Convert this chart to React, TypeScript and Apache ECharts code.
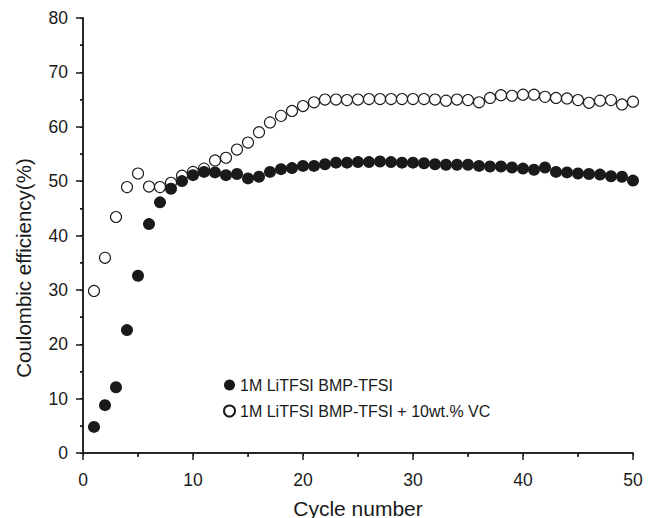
import React, { useEffect, useRef } from "react";
import * as echarts from "echarts";

const cycles = Array.from({ length: 50 }, (_, i) => i + 1);
const seriesNames = ["1M LiTFSI BMP-TFSI", "1M LiTFSI BMP-TFSI + 10wt.% VC"];
const baseValues = [
  4.8, 8.8, 12.1, 22.6, 32.6, 42.1, 46.1, 48.6, 50.0, 51.1,
  51.7, 51.6, 51.1, 51.3, 50.5, 50.8, 51.7, 52.2, 52.4, 52.8,
  52.8, 53.1, 53.4, 53.4, 53.5, 53.5, 53.6, 53.5, 53.4, 53.4,
  53.3, 53.1, 53.0, 53.0, 53.0, 52.8, 52.7, 52.7, 52.5, 52.3,
  52.1, 52.5, 51.7, 51.6, 51.4, 51.3, 51.2, 50.9, 50.8, 50.1,
];
const vcValues = [
  29.8, 35.9, 43.4, 48.9, 51.4, 49.0, 48.9, 49.7, 51.0, 51.7,
  52.3, 53.8, 54.3, 55.8, 57.1, 59.0, 60.8, 62.0, 62.9, 63.8,
  64.5, 65.0, 65.0, 64.9, 65.0, 65.1, 65.1, 65.1, 65.1, 65.1,
  65.1, 65.0, 64.8, 65.0, 64.9, 64.5, 65.3, 65.8, 65.7, 65.9,
  65.9, 65.5, 65.3, 65.2, 64.9, 64.4, 64.8, 64.9, 64.1, 64.6,
];
const xLabel = "Cycle number";
const yLabel = "Coulombic efficiency(%)";

const INK = "#1a1a1a";
const FONT = "Liberation Sans, Arial, sans-serif";

export default function App() {
  const ref = useRef<HTMLDivElement>(null);
  useEffect(() => {
    if (!ref.current) return;
    const chart = echarts.init(ref.current, null, { renderer: "svg" });
    const axisLine = { show: true, lineStyle: { color: INK, width: 1.5 } };
    chart.setOption({
      animation: false,
      backgroundColor: "#fff",
      grid: { left: 83, right: 21, top: 18, bottom: 65, containLabel: false, outerBoundsMode: "none" },
      graphic: [
        {
          type: "text",
          x: 23,
          y: 268,
          rotation: Math.PI / 2,
          style: {
            text: yLabel,
            fontFamily: FONT,
            fontSize: 20.5,
            fill: INK,
            align: "center",
            verticalAlign: "middle",
          },
        },
      ],
      legend: {
        orient: "vertical",
        left: 218,
        top: 372,
        itemWidth: 11,
        itemHeight: 11,
        itemGap: 10,
        textStyle: { fontFamily: FONT, fontSize: 16, color: INK },
        data: [
          { name: seriesNames[0], icon: "circle" },
          { name: seriesNames[1], icon: "circle" },
        ],
      },
      xAxis: [
        {
          type: "value",
          min: 0,
          max: 50,
          interval: 10,
          name: xLabel,
          nameLocation: "middle",
          nameGap: 44.5,
          nameTextStyle: { fontFamily: FONT, fontSize: 21, color: INK },
          axisLine,
          axisTick: { show: true, inside: false, length: 7, lineStyle: { color: INK, width: 1.5 } },
          minorTick: { show: true, splitNumber: 2, length: 4, lineStyle: { color: INK, width: 1.5 } },
          axisLabel: { fontFamily: FONT, fontSize: 17.5, color: INK, margin: 18 },
          splitLine: { show: false },
        },
        {
          type: "value",
          position: "top",
          min: 0,
          max: 50,
          interval: 5,
          axisLine,
          axisTick: { show: true, inside: true, length: 3, lineStyle: { color: INK, width: 1 } },
          axisLabel: { show: false },
          splitLine: { show: false },
        },
      ],
      yAxis: [
        {
          type: "value",
          min: 0,
          max: 80,
          interval: 10,
          axisLine,
          axisTick: { show: true, inside: false, length: 7, lineStyle: { color: INK, width: 1.5 } },
          minorTick: { show: true, splitNumber: 2, length: 3, lineStyle: { color: INK, width: 1.5 } },
          axisLabel: { fontFamily: FONT, fontSize: 17.5, color: INK, margin: 15 },
          splitLine: { show: false },
        },
        {
          type: "value",
          position: "right",
          min: 0,
          max: 80,
          interval: 5,
          axisLine,
          axisTick: { show: true, inside: true, length: 3, lineStyle: { color: INK, width: 1 } },
          axisLabel: { show: false },
          splitLine: { show: false },
        },
      ],
      series: [
        {
          name: seriesNames[0],
          type: "scatter",
          symbol: "circle",
          symbolSize: 12,
          itemStyle: { color: INK, opacity: 1 },
          data: cycles.map((c, i) => [c, baseValues[i]]),
          z: 3,
        },
        {
          name: seriesNames[1],
          type: "scatter",
          symbol: "circle",
          symbolSize: 11,
          itemStyle: { color: "#fff", borderColor: INK, borderWidth: 1.1, opacity: 1 },
          data: cycles.map((c, i) => [c, vcValues[i]]),
          z: 2,
        },
      ],
    });
    return () => chart.dispose();
  }, []);
  return <div ref={ref} style={{ width: 654, height: 518, position: "absolute", left: 0, top: 0 }} />;
}
